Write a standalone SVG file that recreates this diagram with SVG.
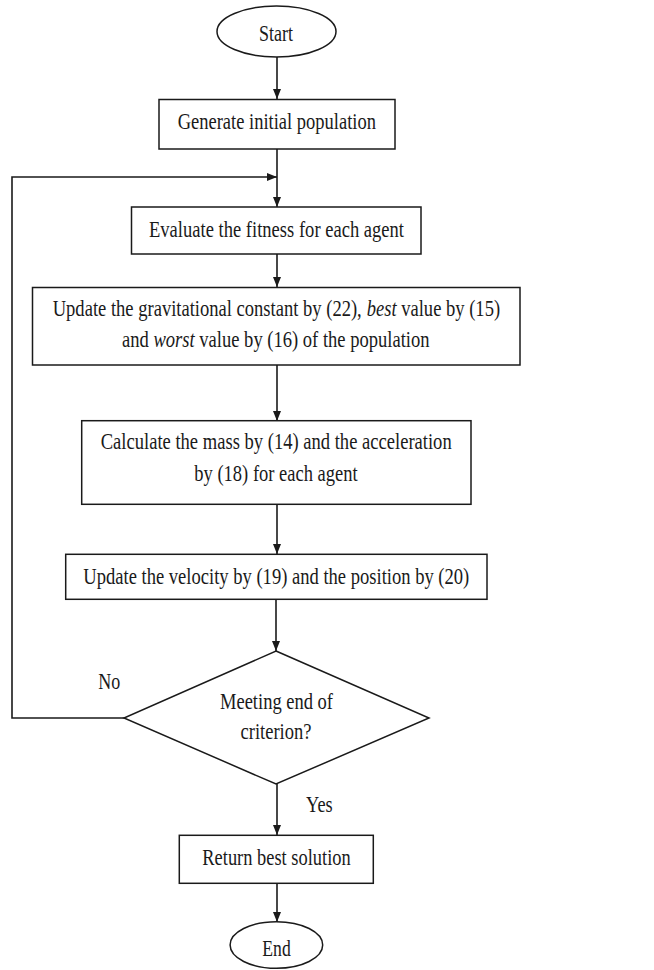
<svg xmlns="http://www.w3.org/2000/svg" width="654" height="970" viewBox="0 0 654 970">
<style>
.shape{fill:#fff;stroke:#1a1a1a;stroke-width:1.5}
.line{fill:none;stroke:#1a1a1a;stroke-width:1.6}
text{font-family:"Liberation Serif","Times New Roman",serif;font-size:22.5px;fill:#1a1a1a}
.c{text-anchor:middle}
.i{font-style:italic}
</style>
<defs>
<marker id="ah" markerWidth="10" markerHeight="8" refX="10" refY="4" orient="auto" markerUnits="userSpaceOnUse">
<path d="M0,0 L10,4 L0,8 Z" fill="#1a1a1a"/>
</marker>
</defs>
<g id="connectors">
<line class="line" x1="277" y1="57" x2="277" y2="99" marker-end="url(#ah)"/>
<line class="line" x1="277" y1="149" x2="277" y2="207" marker-end="url(#ah)"/>
<polyline class="line" points="124,718 12,718 12,177 277,177" marker-end="url(#ah)"/>
<line class="line" x1="277" y1="254" x2="277" y2="287" marker-end="url(#ah)"/>
<line class="line" x1="277" y1="365" x2="277" y2="421" marker-end="url(#ah)"/>
<line class="line" x1="277" y1="504" x2="277" y2="554" marker-end="url(#ah)"/>
<line class="line" x1="276" y1="599" x2="276" y2="651" marker-end="url(#ah)"/>
<line class="line" x1="277" y1="784" x2="277" y2="835" marker-end="url(#ah)"/>
<line class="line" x1="277" y1="883" x2="277" y2="922" marker-end="url(#ah)"/>
<text x="98.3" y="689" textLength="22" lengthAdjust="spacingAndGlyphs">No</text>
<text x="306" y="812" textLength="26.7" lengthAdjust="spacingAndGlyphs">Yes</text>
</g>
<g id="start">
<ellipse class="shape" cx="276.5" cy="31.5" rx="59.5" ry="25.5"/>
<text class="c" x="276" y="41" textLength="34" lengthAdjust="spacingAndGlyphs">Start</text>
</g>
<g id="generate">
<rect class="shape" x="159" y="99.5" width="236" height="49.5"/>
<text class="c" x="276.8" y="129.3" textLength="198.3" lengthAdjust="spacingAndGlyphs">Generate initial population</text>
</g>
<g id="evaluate">
<rect class="shape" x="131.5" y="207" width="289.5" height="47"/>
<text class="c" x="276.5" y="237" textLength="255" lengthAdjust="spacingAndGlyphs">Evaluate the fitness for each agent</text>
</g>
<g id="update">
<rect class="shape" x="32.5" y="287.5" width="487.5" height="77.5"/>
<g transform="scale(0.825,1)">
<text x="63.9" y="316">Update the gravitational constant by (22),</text>
<text class="i" x="444.5" y="316">best</text>
<text x="486.3" y="316">value by (15)</text>
<text x="147.9" y="346.7">and</text>
<text class="i" x="186" y="346.7">worst</text>
<text x="241.6" y="346.7">value by (16) of the population</text>
</g>
</g>
<g id="calculate">
<rect class="shape" x="81.7" y="420.7" width="389.3" height="83.6"/>
<text class="c" x="276.2" y="449.3" textLength="351" lengthAdjust="spacingAndGlyphs">Calculate the mass by (14) and the acceleration</text>
<text class="c" x="276" y="480.7" textLength="163.4" lengthAdjust="spacingAndGlyphs">by (18) for each agent</text>
</g>
<g id="velocity">
<rect class="shape" x="65.7" y="554.3" width="421.3" height="45"/>
<text class="c" x="276.3" y="584" textLength="386" lengthAdjust="spacingAndGlyphs">Update the velocity by (19) and the position by (20)</text>
</g>
<g id="decision">
<polygon class="shape" points="276,651 429,718 276,784 124,718"/>
<text class="c" x="276.5" y="709" textLength="113" lengthAdjust="spacingAndGlyphs">Meeting end of</text>
<text class="c" x="276" y="739" textLength="71" lengthAdjust="spacingAndGlyphs">criterion?</text>
</g>
<g id="return">
<rect class="shape" x="179.3" y="835.3" width="194" height="48"/>
<text class="c" x="276.5" y="865" textLength="148.4" lengthAdjust="spacingAndGlyphs">Return best solution</text>
</g>
<g id="end">
<ellipse class="shape" cx="276.4" cy="945" rx="46.3" ry="23.3"/>
<text class="c" x="276.5" y="955.7" textLength="28.4" lengthAdjust="spacingAndGlyphs">End</text>
</g>
</svg>
